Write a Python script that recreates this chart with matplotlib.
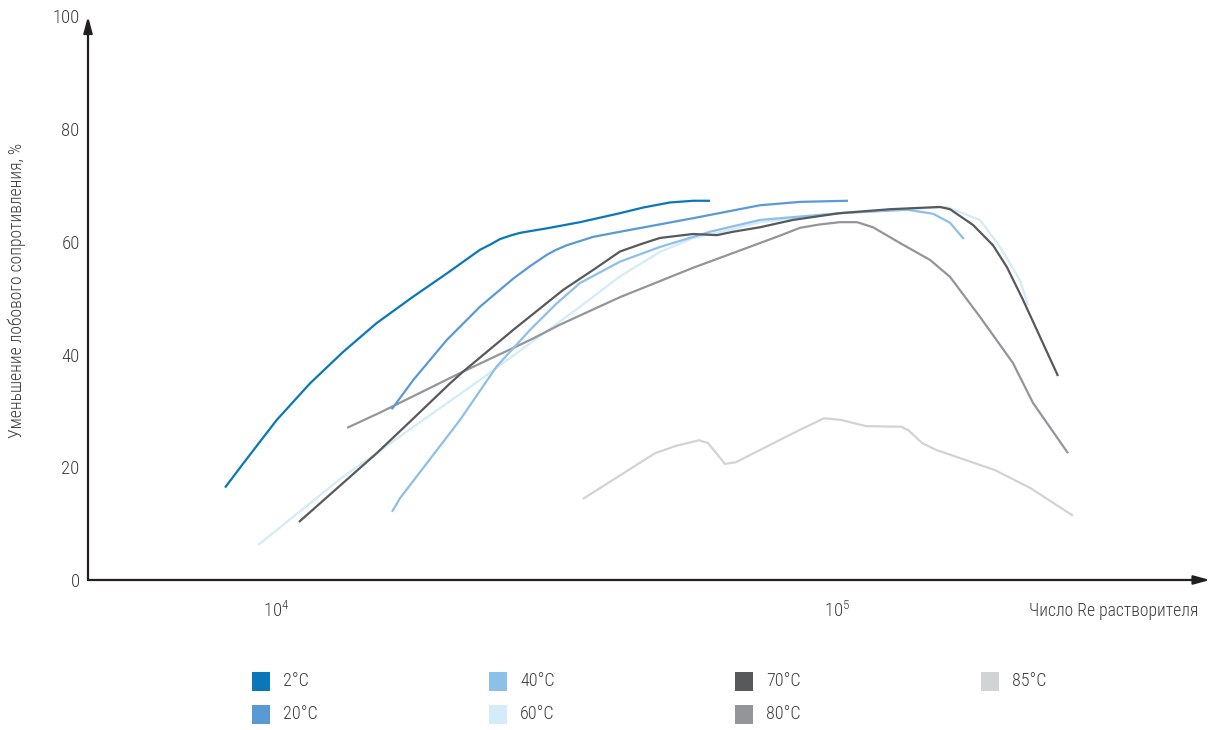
import matplotlib
matplotlib.use('Agg')
import matplotlib.pyplot as plt
import numpy as np
from matplotlib import font_manager
from matplotlib.patches import Rectangle

# Снижение сопротивления в зависимости от числа Re при разных температурах
labels = ['2°C', '20°C', '40°C', '60°C', '70°C', '80°C', '85°C']
colors = ['#0a77b8', '#5a9ad4', '#8cc0e8', '#d4ebf9', '#58595b', '#939598', '#d1d3d4']

re_2 = [8113, 8745, 10030, 11500, 13180, 15120, 17570, 20160, 23100, 24070,
        25080, 26130, 27220, 28720, 30380, 34830, 41050, 45140, 50400, 55450,
        59390]
dr_2 = [16.4, 20.7, 28.4, 34.9, 40.5, 45.6, 50.3, 54.4, 58.6, 59.5,
        60.5, 61.1, 61.6, 62.0, 62.4, 63.5, 65.1, 66.1, 67.0, 67.3,
        67.3]

re_20 = [16080, 17570, 20160, 23100, 26490, 28380, 30380, 31590, 32980, 36780,
         41050, 55370, 72880, 85910, 104600]
dr_20 = [30.3, 35.5, 42.6, 48.5, 53.5, 55.7, 57.7, 58.6, 59.4, 60.9,
         61.8, 64.2, 66.5, 67.1, 67.3]

re_40 = [16100, 16630, 20180, 21280, 24740, 28380, 31660, 34830, 41050, 48350,
         59380, 72920, 101200, 133300, 148300, 159000, 168300]
dr_40 = [12.1, 14.5, 25.4, 28.4, 37.9, 44.4, 49.1, 52.7, 56.5, 59.1,
         61.8, 63.9, 65.1, 65.7, 65.0, 63.4, 60.5]

re_60 = [9290, 13160, 18300, 23100, 28380, 34830, 41050, 48350, 55370, 61090,
         72920, 101200, 129400, 157000, 179800, 195300, 211900, 219000]
dr_60 = [6.2, 18.3, 28.4, 35.5, 42.0, 48.5, 53.9, 58.2, 60.7, 61.6,
         63.5, 65.1, 65.7, 66.2, 63.9, 59.1, 53.2, 48.8]

re_70 = [10990, 15120, 17460, 20430, 21570, 26490, 32520, 36730, 41050, 44710,
         48350, 55370, 61090, 65260, 72920, 83480, 101200, 124300, 152600,
         159000, 174800, 189700, 200900, 214600, 247700]
dr_70 = [10.3, 22.5, 28.4, 34.9, 37.0, 44.4, 51.5, 55.0, 58.3, 59.6,
         60.7, 61.4, 61.2, 61.8, 62.6, 63.9, 65.1, 65.8, 66.2,
         65.8, 63.0, 59.4, 55.5, 49.7, 36.2]

re_80 = [13390, 15320, 21570, 28380, 32060, 41050, 55370, 72920, 79080, 85910,
         93230, 101200, 108600, 115900, 129500, 146500, 159000, 179800, 205900,
         223600, 258100]
dr_80 = [27.0, 29.7, 37.0, 42.6, 45.3, 50.2, 55.4, 59.8, 61.1, 62.5,
         63.1, 63.5, 63.5, 62.6, 59.8, 56.8, 53.8, 46.7, 38.5,
         31.4, 22.5]

re_85 = [35260, 47390, 51640, 56760, 58900, 63130, 66040, 84490, 94810, 101700,
         112700, 130100, 133900, 141800, 150100, 191200, 221300, 263400]
dr_85 = [14.4, 22.5, 23.8, 24.8, 24.3, 20.6, 20.9, 26.3, 28.7, 28.4,
         27.3, 27.2, 26.6, 24.3, 23.1, 19.5, 16.3, 11.4]

series = [(re_2, dr_2), (re_20, dr_20), (re_40, dr_40), (re_60, dr_60),
          (re_70, dr_70), (re_80, dr_80), (re_85, dr_85)]

y_ticks = [0, 20, 40, 60, 80, 100]
x_ticks = [1e4, 1e5]
x_tick_labels = ['$10^{4}$', '$10^{5}$']

# шрифт: узкий, если есть
names = {f.name for f in font_manager.fontManager.ttflist}
fam = 'DejaVu Sans'
for cand in ['Roboto Condensed', 'Liberation Sans Narrow', 'Roboto']:
    if cand in names:
        fam = cand
        break
plt.rcParams['font.family'] = [fam, 'DejaVu Sans']
plt.rcParams['font.weight'] = 'light'
plt.rcParams['mathtext.fontset'] = 'custom'
plt.rcParams['mathtext.rm'] = fam + ':light'
plt.rcParams['mathtext.it'] = fam + ':light'

text_color = '#3d3d3d'

fig = plt.figure(figsize=(12.18, 7.30), dpi=100)
ax = fig.add_axes([0.07225, 0.2055, 0.9212, 0.7719])

# порядок отрисовки: тёмные линии поверх светлых
order = [6, 3, 5, 2, 1, 4, 0]
for i in order:
    x, y = series[i]
    ax.plot(x, y, color=colors[i], lw=1.6, solid_capstyle='butt',
            solid_joinstyle='round')

ax.set_xscale('log')
ax.set_xlim(10 ** 3.6649, 10 ** 5.6649)
ax.set_ylim(0, 100)
ax.xaxis.set_major_locator(matplotlib.ticker.FixedLocator(x_ticks))
ax.xaxis.set_minor_locator(matplotlib.ticker.NullLocator())
ax.set_xticklabels(x_tick_labels)
ax.set_yticks(y_ticks)
ax.tick_params(axis='both', length=0, labelsize=13.5, colors=text_color)
ax.tick_params(axis='y', pad=6)
ax.tick_params(axis='x', pad=15)

for s in ax.spines.values():
    s.set_visible(False)

# оси со стрелками
arrow = dict(arrowstyle='-|>,head_length=0.8,head_width=0.22',
             color='#231f20', lw=1.6, mutation_scale=12, shrinkA=0, shrinkB=0)
ax.annotate('', xy=(1, 0), xytext=(0, 0), xycoords='axes fraction',
            textcoords='axes fraction', arrowprops=arrow, annotation_clip=False)
ax.annotate('', xy=(0, 1), xytext=(0, 0), xycoords='axes fraction',
            textcoords='axes fraction', arrowprops=arrow, annotation_clip=False)

fig.text(1198 / 1218, 1 - 611 / 730, 'Число Re растворителя', ha='right',
         va='center', fontsize=12.7, color=text_color)
fig.text(17 / 1218, 1 - 290 / 730, 'Уменьшение лобового сопротивления, %',
         rotation=90, ha='center', va='center', fontsize=12.7, color=text_color)

# легенда: 4 колонки по 2 строки
col_x = [252, 489, 735, 981]
row_y = [681.5, 714]
for i, (lab, col) in enumerate(zip(labels, colors)):
    cx = col_x[i // 2]
    cy = row_y[i % 2]
    fig.add_artist(Rectangle((cx / 1218, 1 - (cy + 9.5) / 730), 18 / 1218,
                             19 / 730, transform=fig.transFigure,
                             facecolor=col, edgecolor='none'))
    fig.text((cx + 31) / 1218, 1 - cy / 730, lab, ha='left', va='center',
             fontsize=13, color=text_color)

fig.savefig('out.png', dpi=100)
